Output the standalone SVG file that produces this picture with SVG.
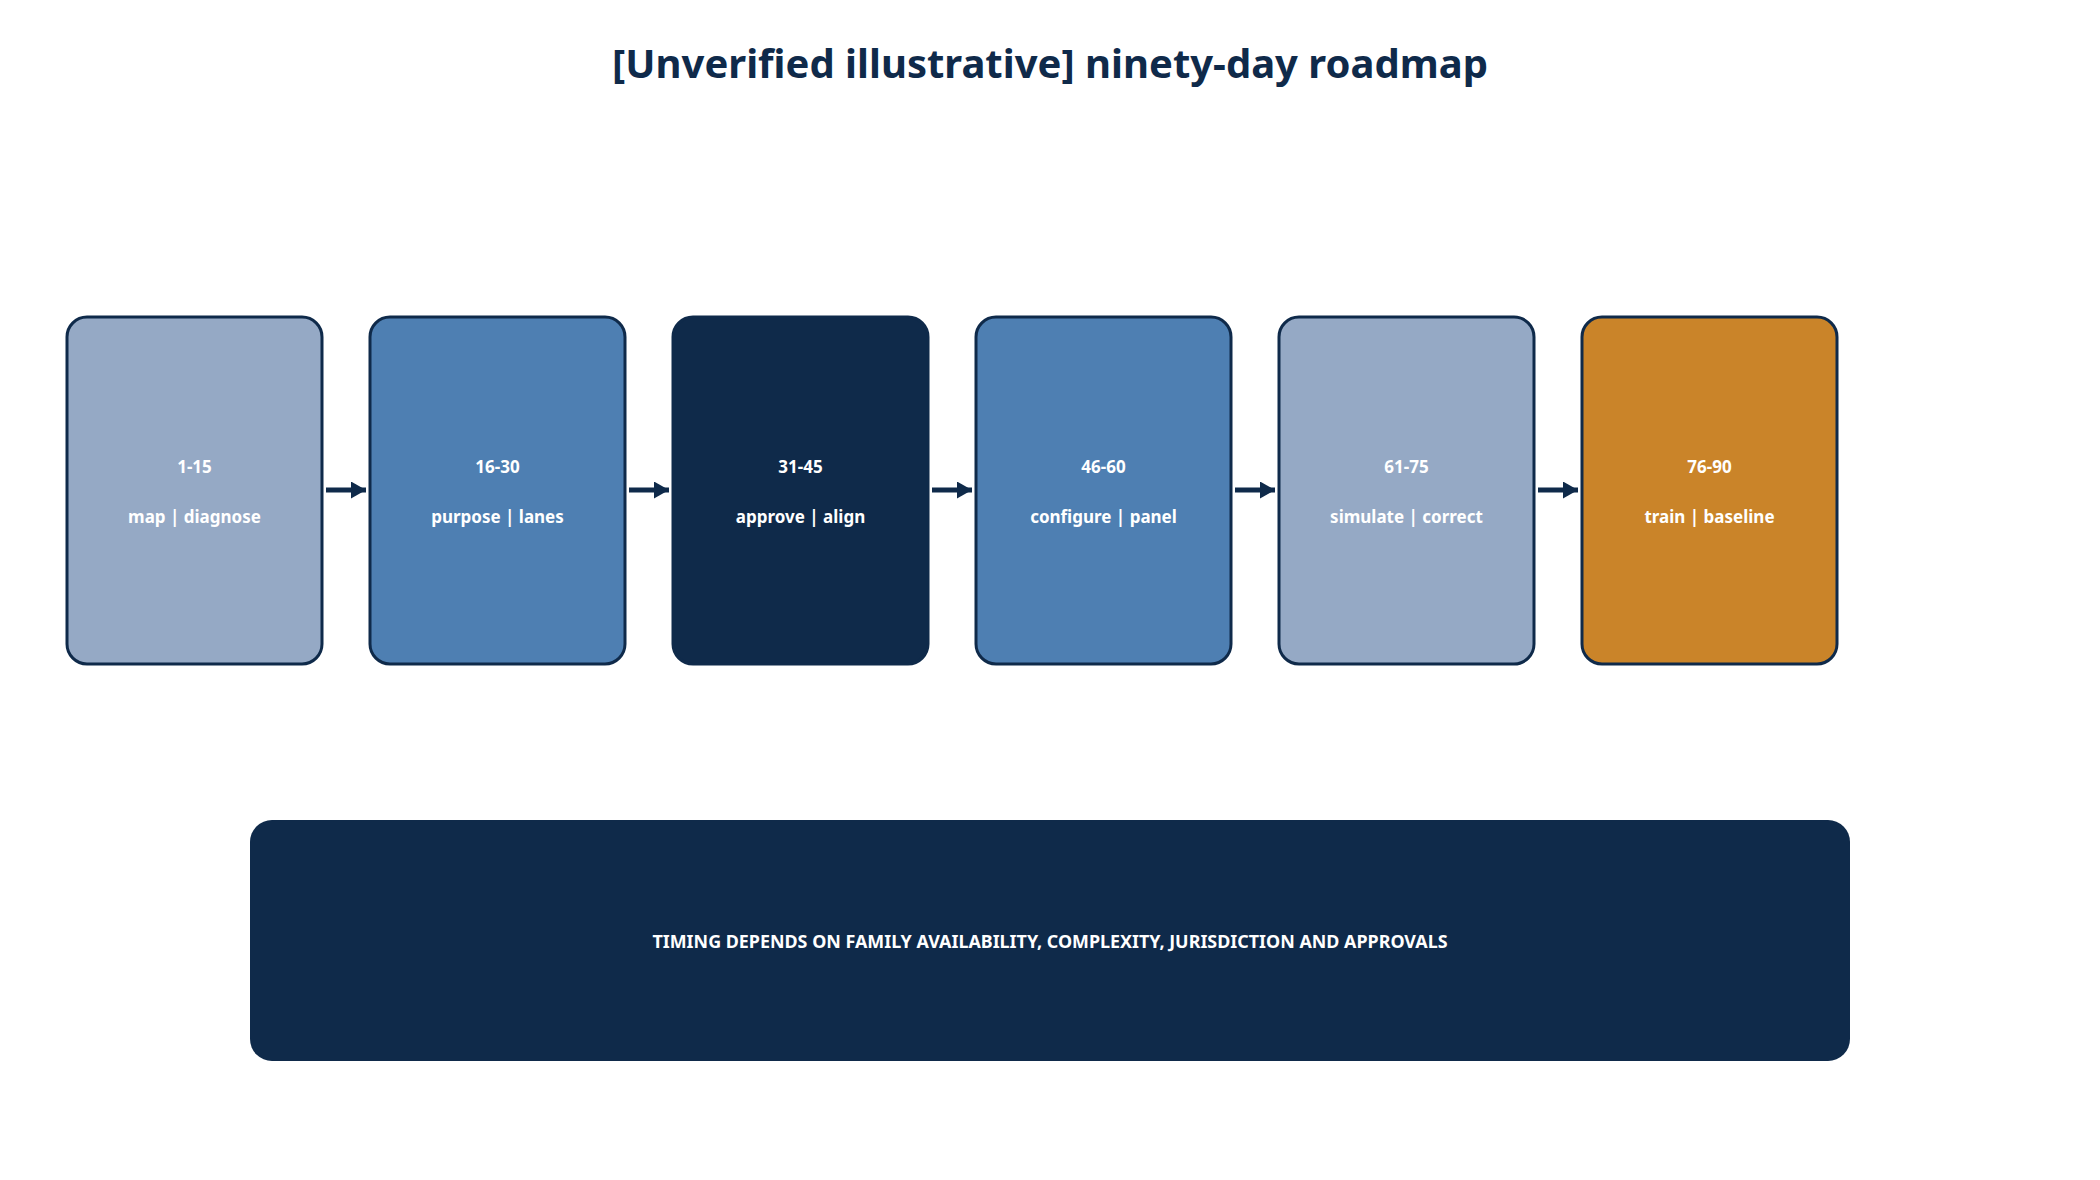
<svg xmlns="http://www.w3.org/2000/svg" width="2100" height="1180" viewBox="0 0 2100 1180">
<style>
  .title { font-family: "Noto Sans", "Open Sans", "DejaVu Sans", sans-serif; font-weight: 700; font-size: 40px; fill: #0F2A4A; text-anchor: middle; }
  .node rect { stroke: #0F2A4A; stroke-width: 3; }
  .lbl { font-family: "Noto Sans", "Open Sans", "DejaVu Sans", sans-serif; font-weight: 700; font-size: 17px; fill: #FFFFFF; text-anchor: middle; }
  .light { fill: #95A9C5; }
  .mid { fill: #4E7FB2; }
  .dark { fill: #0F2A4A; }
  .amber { fill: #CA8429; }
  .conn line { stroke: #0F2A4A; stroke-width: 5; }
  .note rect { fill: #0F2A4A; }
  .notetext { font-family: "Noto Sans", "Open Sans", "DejaVu Sans", sans-serif; font-weight: 700; font-size: 17.9px; fill: #FFFFFF; text-anchor: middle; }
</style>
<defs>
  <marker id="arrow" viewBox="0 0 15 17" refX="15" refY="8.5" markerWidth="15" markerHeight="17" markerUnits="userSpaceOnUse" orient="auto">
    <path d="M0,0 L15,8.5 L0,17 Z" fill="#0F2A4A"/>
  </marker>
</defs>
<rect width="2100" height="1180" fill="#FFFFFF"/>
<text class="title" x="1050" y="78">[Unverified illustrative] ninety-day roadmap</text>

<g id="node-1" class="node">
  <rect class="light" x="67" y="317" width="255" height="347" rx="20" ry="20"/>
  <text class="lbl" x="194.5" y="473">1-15</text>
  <text class="lbl" x="194.5" y="523">map | diagnose</text>
</g>
<g id="node-2" class="node">
  <rect class="mid" x="370" y="317" width="255" height="347" rx="20" ry="20"/>
  <text class="lbl" x="497.5" y="473">16-30</text>
  <text class="lbl" x="497.5" y="523">purpose | lanes</text>
</g>
<g id="node-3" class="node">
  <rect class="dark" x="673" y="317" width="255" height="347" rx="20" ry="20"/>
  <text class="lbl" x="800.5" y="473">31-45</text>
  <text class="lbl" x="800.5" y="523">approve | align</text>
</g>
<g id="node-4" class="node">
  <rect class="mid" x="976" y="317" width="255" height="347" rx="20" ry="20"/>
  <text class="lbl" x="1103.5" y="473">46-60</text>
  <text class="lbl" x="1103.5" y="523">configure | panel</text>
</g>
<g id="node-5" class="node">
  <rect class="light" x="1279" y="317" width="255" height="347" rx="20" ry="20"/>
  <text class="lbl" x="1406.5" y="473">61-75</text>
  <text class="lbl" x="1406.5" y="523">simulate | correct</text>
</g>
<g id="node-6" class="node">
  <rect class="amber" x="1582" y="317" width="255" height="347" rx="20" ry="20"/>
  <text class="lbl" x="1709.5" y="473">76-90</text>
  <text class="lbl" x="1709.5" y="523">train | baseline</text>
</g>

<g id="connectors" class="conn">
  <line x1="326" y1="490" x2="366" y2="490" marker-end="url(#arrow)"/>
  <line x1="629" y1="490" x2="669" y2="490" marker-end="url(#arrow)"/>
  <line x1="932" y1="490" x2="972" y2="490" marker-end="url(#arrow)"/>
  <line x1="1235" y1="490" x2="1275" y2="490" marker-end="url(#arrow)"/>
  <line x1="1538" y1="490" x2="1578" y2="490" marker-end="url(#arrow)"/>
</g>

<g id="note" class="note">
  <rect x="250" y="820" width="1600" height="241" rx="22" ry="22"/>
  <text class="notetext" x="1050" y="948">TIMING DEPENDS ON FAMILY AVAILABILITY, COMPLEXITY, JURISDICTION AND APPROVALS</text>
</g>
</svg>
